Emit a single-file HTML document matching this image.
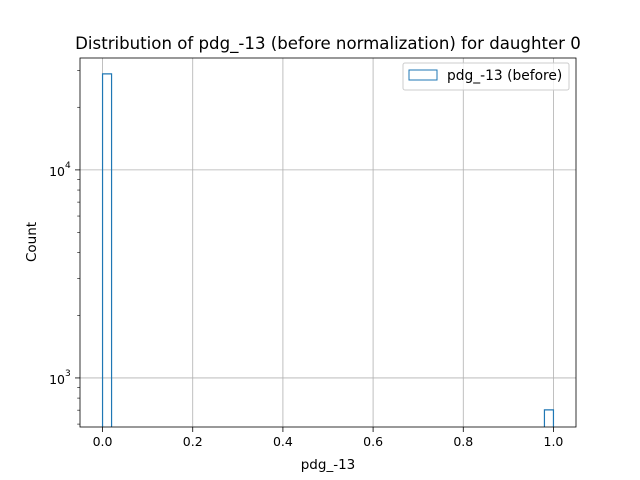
<!DOCTYPE html>
<html><head><meta charset="utf-8"><style>body{margin:0;background:#fff}svg{display:block;font-family:"DejaVu Sans","Liberation Sans",sans-serif}</style></head>
<body>
<svg id="c" width="640" height="480" xmlns="http://www.w3.org/2000/svg">
<rect width="640" height="480" fill="#fff"/>
<g id="grid"></g>
<g id="bars"></g>
<rect x="80" y="58" width="496" height="369" fill="none" stroke="#000" stroke-width="0.8"/>
<g id="ticks"></g>
<text x="328" y="49" text-anchor="middle" font-size="16.6">Distribution of pdg_-13 (before normalization) for daughter 0</text>
<text x="328" y="469" text-anchor="middle" font-size="13.5">pdg_-13</text>
<text transform="translate(36,242) rotate(-90)" text-anchor="middle" font-size="13.5">Count</text>
<g>
<rect x="403" y="63" width="166" height="27" rx="2" fill="#fff" fill-opacity="0.8" stroke="#ccc"/>
<rect x="409" y="70" width="28" height="10" fill="none" stroke="#1f77b4"/>
<text x="447" y="80" font-size="13.8">pdg_-13 (before)</text>
</g>
</svg>
<script>
const binEdges = [0, 0.02, 0.98, 1.0];
const counts = [28950, 0, 702];
const xTicks = [0, 0.2, 0.4, 0.6, 0.8, 1.0];
const xTickLabels = ["0.0", "0.2", "0.4", "0.6", "0.8", "1.0"];
const yTicks = [1000, 10000];
const yTickLabels = ["10", "10"];
const yTickExps = ["3", "4"];

const NS = "http://www.w3.org/2000/svg";
const L = 80, R = 576, T = 58, B = 427;
const xMin = -0.05, xMax = 1.05;
const yLogMin = Math.log10(581), yLogMax = Math.log10(34500);
const xs = v => L + (v - xMin) / (xMax - xMin) * (R - L);
const ys = v => B - (Math.log10(Math.max(v, 1e-9)) - yLogMin) / (yLogMax - yLogMin) * (B - T);
function mk(tag, attrs, parent) { const e = document.createElementNS(NS, tag); for (const k in attrs) e.setAttribute(k, attrs[k]); parent.appendChild(e); return e; }
const grid = document.getElementById('grid'), bars = document.getElementById('bars'), ticks = document.getElementById('ticks');

xTicks.forEach((t, i) => {
  const x = xs(t);
  const g = mk('line', {x1: x, x2: x, y1: T, y2: B, stroke: '#b0b0b0', 'stroke-width': 0.8}, grid);
  
  
  mk('line', {x1: x, x2: x, y1: B, y2: B + 5, stroke: '#000', 'stroke-width': 0.8}, ticks);
  const tx = mk('text', {x: x, y: B + 19, 'text-anchor': 'middle', 'font-size': 12.5}, ticks);
  tx.textContent = xTickLabels[i];
  
  
});
yTicks.forEach((t, i) => {
  const y = ys(t);
  const g = mk('line', {x1: L, x2: R, y1: y, y2: y, stroke: '#b0b0b0', 'stroke-width': 0.8}, grid);
  
  
  mk('line', {x1: L - 5, x2: L, y1: y, y2: y, stroke: '#000', 'stroke-width': 0.8}, ticks);
  const tx = mk('text', {x: L - 15, y: y + 6, 'text-anchor': 'end', 'font-size': 12.5}, ticks);
  tx.textContent = yTickLabels[i];
  
  
  const ex = mk('text', {x: L - 15, y: y - 2, 'font-size': 9}, ticks);
  ex.textContent = yTickExps[i];
});
for (let d = 2; d <= 4; d++) for (let m = 2; m <= 9; m++) {
  const v = m * Math.pow(10, d);
  const y = ys(v);
  if (y < T || y > B) continue;
  mk('line', {x1: L - 2.8, x2: L, y1: y, y2: y, stroke: '#000', 'stroke-width': 0.6}, ticks);
}
for (let i = 0; i < counts.length; i++) {
  if (counts[i] <= 0) continue;
  const x0 = xs(binEdges[i]), x1 = xs(binEdges[i + 1]), y = ys(counts[i]);
  const p = mk('path', {d: `M${x0},${B}L${x0},${y}L${x1},${y}L${x1},${B}`, fill: 'none', stroke: '#1f77b4', 'stroke-width': 1.2}, bars);
  
  
}
</script>
</body></html>
